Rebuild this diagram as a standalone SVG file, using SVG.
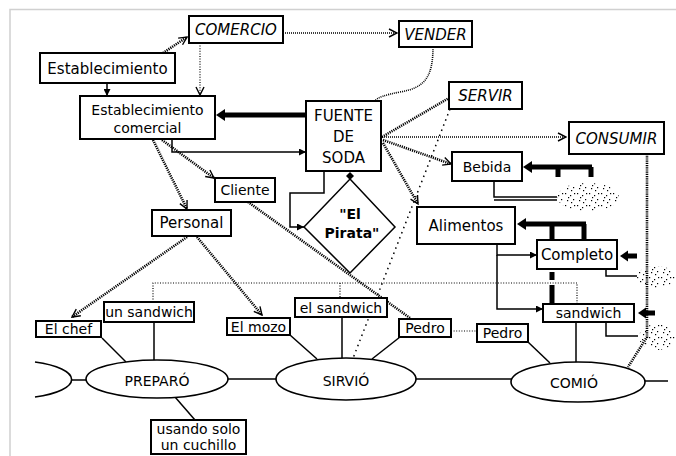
<svg xmlns="http://www.w3.org/2000/svg" width="676" height="456" viewBox="0 0 676 456">
<style>
text{font-family:"DejaVu Sans","Liberation Sans",sans-serif;fill:#000;text-anchor:middle}
.t15{font-size:15px}
.t14{font-size:14px}
.it{font-size:15px;font-style:italic}
.bd{font-size:14px;font-weight:bold}
.box{fill:#fff;stroke:#000;stroke-width:2}
.ell{fill:#fff;stroke:#000;stroke-width:1.6}
.ln{fill:none;stroke:#000;stroke-width:1.5}
.hatch{fill:none;stroke:#000;stroke-width:2.6;stroke-dasharray:1.2 1}
.fine{fill:none;stroke:#000;stroke-width:1.6;stroke-dasharray:1 1}
.dot{fill:none;stroke:#000;stroke-width:1.2;stroke-dasharray:1 1.6}
.sdot{fill:none;stroke:#000;stroke-width:1.5;stroke-dasharray:1.5 4}
.thick{fill:none;stroke:#000;stroke-width:5}
.frame{fill:none;stroke:#d0d0d0;stroke-width:1.5}
</style>
<defs>
<marker id="open" viewBox="0 0 10 10" refX="9" refY="5" markerWidth="10" markerHeight="10" markerUnits="userSpaceOnUse" orient="auto">
<path d="M1,1 L9,5 L1,9" fill="none" stroke="#000" stroke-width="1.4"/>
</marker>
<marker id="tri" viewBox="0 0 8 8" refX="8" refY="4" markerWidth="7" markerHeight="7" markerUnits="userSpaceOnUse" orient="auto">
<path d="M0,0 L8,4 L0,8 z" fill="#000"/>
</marker>
<pattern id="spk" width="12" height="12" patternUnits="userSpaceOnUse">
<rect x="1" y="1" width="1.2" height="1.2" fill="#000"/>
<rect x="6" y="3" width="1.2" height="1.2" fill="#000"/>
<rect x="9" y="7" width="1.2" height="1.2" fill="#000"/>
<rect x="3" y="8" width="1.2" height="1.2" fill="#000"/>
<rect x="4" y="5" width="1.2" height="1.2" fill="#000"/>
<rect x="10" y="1" width="1.2" height="1.2" fill="#000"/>
<rect x="7" y="10" width="1.2" height="1.2" fill="#000"/>
</pattern>
</defs>
<rect width="676" height="456" fill="#fff"/>
<path class="frame" d="M10,456 L10,9.5 L676,9.5"/>

<g id="connectors">
<path class="ln" d="M107,83 L107,96" marker-end="url(#tri)"/>
<path class="ln" d="M172,139 L172,152 L306,152" marker-end="url(#tri)"/>
<path class="ln" d="M324,171 L324,193 L290,193 L290,227 L304,227" marker-end="url(#tri)"/>
<path class="ln" d="M497,244 L497,255 L537,255" marker-end="url(#tri)"/>
<path class="ln" d="M497,255 L497,309 L543,309" marker-end="url(#tri)"/>
<path class="ln" d="M494,181 L494,197 L557,197"/>
<path class="ln" d="M494,200 L557,200"/>
<path class="ln" d="M606,269 L606,276 L637,276"/>
<path class="ln" d="M606,322 L606,336 L638,336"/>
<path class="ln" d="M35,380 L86,380"/>
<path class="ln" d="M228,379 L276,379"/>
<path class="ln" d="M416,379 L512,379"/>
<path class="ln" d="M645,381 L668,381"/>
<path class="ln" d="M102,338 L126,362"/>
<path class="ln" d="M154,322 L154,361"/>
<path class="ln" d="M175,397 L195,420"/>
<path class="ln" d="M290,335 L317,359"/>
<path class="ln" d="M342,317 L342,359"/>
<path class="ln" d="M400,337 L372,359"/>
<path class="ln" d="M528,342 L550,363"/>
<path class="ln" d="M576,322 L576,363"/>
<path class="thick" d="M306,115 L222,115"/>
<polygon points="216,115 225,109 225,121" fill="#000"/>
<path class="thick" d="M592,167 L530,167 M558,167 L558,177 M591,167 L591,177"/>
<polygon points="523,167 532,161 532,173" fill="#000"/>
<path class="thick" d="M586,224 L524,224 M552,224 L552,240 M584,224 L584,240"/>
<polygon points="517,224 526,218 526,230" fill="#000"/>
<path class="thick" d="M637,256 L626,256"/>
<polygon points="620,256 628,250.5 628,261.5" fill="#000"/>
<path class="thick" d="M655,313 L644,313"/>
<polygon points="638,313 646,307.5 646,318.5" fill="#000"/>
<path class="thick" d="M552,272 L552,280 M552,285 L552,303"/>
<path class="hatch" d="M163,53 L187,37" marker-end="url(#open)"/>
<path class="hatch" d="M153,140 L187,209" marker-end="url(#open)"/>
<path class="hatch" d="M162,140 L214,178" marker-end="url(#open)"/>
<path class="hatch" d="M187,237 L72,317" marker-end="url(#open)"/>
<path class="hatch" d="M197,237 L262,315" marker-end="url(#open)"/>
<path class="hatch" d="M248,202 L410,318"/>
<path class="hatch" d="M382,137 L449,98"/>
<path class="hatch" d="M383,140 L451,164" marker-end="url(#open)"/>
<path class="hatch" d="M383,143 L418,204" marker-end="url(#open)"/>
<path class="hatch" d="M647,154 L647,337 L628,367"/>
<path class="fine" d="M283,33 L397,33" marker-end="url(#open)"/>
<path class="fine" d="M382,137 L566,137" marker-end="url(#open)"/>
<path class="fine" d="M433,47 C433,78 424,88 400,92 C385,95 378,97 375,101"/>
<path class="dot" d="M200,43 L200,95" marker-end="url(#open)"/>
<path class="dot" d="M153,302 L153,283 L577,283 L577,304"/>
<path class="dot" d="M340,283 L340,298"/>
<path class="dot" d="M451,331 L477,331"/>
<path class="sdot" d="M450,109 L350,366"/>
</g>

<g id="speckles">
<ellipse cx="588" cy="197" rx="31" ry="14" fill="url(#spk)"/>
<ellipse cx="656" cy="277" rx="19" ry="11" fill="url(#spk)"/>
<ellipse cx="657" cy="337" rx="18" ry="13" fill="url(#spk)"/>
</g>

<g id="comercio"><rect class="box" x="189" y="16" width="94" height="27"/><text class="it" x="236" y="35">COMERCIO</text></g>
<g id="vender"><rect class="box" x="399" y="21" width="73" height="26"/><text class="it" x="435.5" y="39.5">VENDER</text></g>
<g id="servir"><rect class="box" x="449" y="82" width="73" height="27"/><text class="it" x="485.5" y="101">SERVIR</text></g>
<g id="consumir"><rect class="box" x="569" y="122" width="95" height="32"/><text class="it" x="616.5" y="143.5">CONSUMIR</text></g>
<g id="establecimiento"><rect class="box" x="40" y="53" width="135" height="30"/><text class="t15" x="107.5" y="73.5">Establecimiento</text></g>
<g id="est-comercial"><rect class="box" x="80" y="96" width="135" height="43"/><text class="t14" x="147.5" y="115">Establecimiento</text><text class="t14" x="147.5" y="133">comercial</text></g>
<g id="fuente"><rect class="box" x="306" y="101" width="75" height="70"/><text class="t15" x="343.5" y="121">FUENTE</text><text class="t15" x="343.5" y="142">DE</text><text class="t15" x="343.5" y="163">SODA</text></g>
<g id="pirata"><polygon points="350,179 395,227 350,273 304,227" fill="#fff" stroke="#000" stroke-width="1.5"/><polygon points="350,172 354,176 350,180 346,176" fill="#000"/><text class="bd" x="350" y="219">"El</text><text class="bd" x="352" y="238">Pirata"</text></g>
<g id="bebida"><rect class="box" x="452" y="152" width="70" height="29"/><text class="t14" x="487" y="172">Bebida</text></g>
<g id="cliente"><rect class="box" x="215" y="178" width="60" height="24"/><text class="t14" x="245" y="195">Cliente</text></g>
<g id="personal"><rect class="box" x="152" y="210" width="79" height="26"/><text class="t15" x="191.5" y="228">Personal</text></g>
<g id="alimentos"><rect class="box" x="417" y="207" width="98" height="37"/><text class="t15" x="466" y="231">Alimentos</text></g>
<g id="completo"><rect class="box" x="537" y="240" width="80" height="29"/><text class="t15" x="577" y="260">Completo</text></g>
<g id="sandwich"><rect class="box" x="543" y="304" width="91" height="18"/><text class="t14" x="588.5" y="318">sandwich</text></g>
<g id="un-sandwich"><rect class="box" x="104" y="302" width="90" height="20"/><text class="t14" x="149" y="317">un sandwich</text></g>
<g id="el-chef"><rect class="box" x="36" y="321" width="65" height="16"/><text class="t14" x="68.5" y="334">El chef</text></g>
<g id="el-mozo"><rect class="box" x="227" y="318" width="63" height="17"/><text class="t14" x="258.5" y="332">El mozo</text></g>
<g id="el-sandwich"><rect class="box" x="295" y="298" width="92" height="19"/><text class="t14" x="341" y="313">el sandwich</text></g>
<g id="pedro1"><rect class="box" x="399" y="319" width="52" height="18"/><text class="t14" x="425" y="333">Pedro</text></g>
<g id="pedro2"><rect class="box" x="477" y="324" width="51" height="18"/><text class="t14" x="502.5" y="338">Pedro</text></g>
<g id="cuchillo"><rect class="box" x="151" y="420" width="95" height="34"/><text class="t14" x="198.5" y="434">usando solo</text><text class="t14" x="198.5" y="450">un cuchillo</text></g>
<g id="left-event"><path class="ell" d="M35,362 A60,19 0 0 1 35,397" fill="none"/></g>
<g id="preparo"><ellipse class="ell" cx="157" cy="379" rx="71" ry="19"/><text class="t14" x="157" y="386">PREPARÓ</text></g>
<g id="sirvio"><ellipse class="ell" cx="346" cy="379" rx="70" ry="21"/><text class="t14" x="346" y="386">SIRVIÓ</text></g>
<g id="comio"><ellipse class="ell" cx="578" cy="382" rx="67" ry="20"/><text class="t14" x="574" y="388">COMIÓ</text></g>
</svg>
